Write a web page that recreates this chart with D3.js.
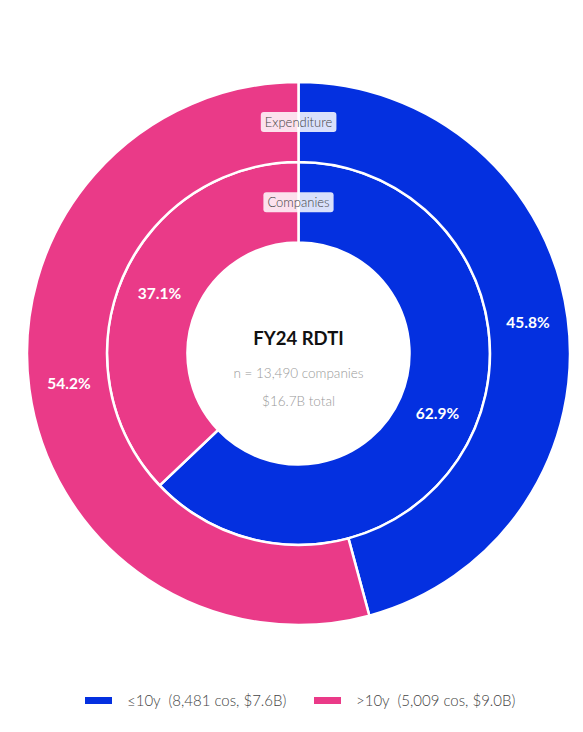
<!DOCTYPE html>
<html>
<head>
<meta charset="utf-8">
<script src="https://cdn.jsdelivr.net/npm/d3@7"></script>
<style>
  body { margin: 0; background: #fff; font-family: Lato, "Noto Sans", sans-serif; }
</style>
</head>
<body>
<svg id="chart" width="583" height="732"></svg>
<script>
const groupNames = ["≤10y", ">10y"];
const colors = ["#0430E0", "#EA3A88"];
const companyShare = [62.9, 37.1];
const expenditureShare = [45.8, 54.2];
const legendLabels = ["≤10y  (8,481 cos, $7.6B)", ">10y  (5,009 cos, $9.0B)"];
const centerTitle = "FY24 RDTI";
const centerLines = ["n = 13,490 companies", "$16.7B total"];

const width = 583;
const height = 732;
const cx = 298.5, cy = 353.5;
const r0 = 111, r1 = 191.5, r2 = 271.5;

const svg = d3.select("#chart");
const g = svg.append("g").attr("transform", `translate(${cx},${cy})`);

const pie = d3.pie().sort(null).value(d => d);

const rings = [
    { name: "Companies", values: companyShare, inner: r0, outer: r1 },
    { name: "Expenditure", values: expenditureShare, inner: r1, outer: r2 }
];

rings.forEach(ring => {
    const arc = d3.arc().innerRadius(ring.inner).outerRadius(ring.outer);
    const labelArc = d3.arc()
        .innerRadius((ring.inner + ring.outer) / 2)
        .outerRadius((ring.inner + ring.outer) / 2);
    const arcs = pie(ring.values);

    g.append("g")
        .selectAll("path")
        .data(arcs)
        .join("path")
        .attr("d", arc)
        .attr("fill", (d, i) => colors[i])
        .attr("stroke", "#fff")
        .attr("stroke-width", 2.5);

    g.append("g")
        .selectAll("text")
        .data(arcs)
        .join("text")
        .attr("transform", d => `translate(${labelArc.centroid(d)})`)
        .attr("text-anchor", "middle")
        .attr("dy", "0.35em")
        .attr("fill", "#fff")
        .attr("font-size", 15.5)
        .attr("font-weight", "bold")
        .text(d => d.data.toFixed(1) + "%");
});

// ring name tags at the top
rings.forEach(ring => {
    const y = -(ring.inner + ring.outer) / 2;
    const tag = g.append("g").attr("transform", `translate(0,${y})`);
    const t = tag.append("text")
        .attr("text-anchor", "middle")
        .attr("dy", "0.35em")
        .attr("font-size", 13)
        .attr("font-weight", 300)
        .attr("fill", "#444")
        .text(ring.name);
    const bb = t.node().getBBox();
    tag.insert("rect", "text")
        .attr("x", bb.x - 4)
        .attr("y", -10)
        .attr("width", bb.width + 8)
        .attr("height", 20)
        .attr("rx", 3)
        .attr("fill", "#fff")
        .attr("fill-opacity", 0.85);
});

// centre text
g.append("text")
    .attr("text-anchor", "middle")
    .attr("y", -15)
    .attr("dy", "0.35em")
    .attr("font-size", 18.5)
    .attr("font-weight", "bold")
    .attr("fill", "#111")
    .text(centerTitle);

g.selectAll(".sub")
    .data(centerLines)
    .join("text")
    .attr("class", "sub")
    .attr("text-anchor", "middle")
    .attr("y", (d, i) => 20 + i * 28)
    .attr("dy", "0.35em")
    .attr("font-size", 13.5)
    .attr("font-weight", 300)
    .attr("fill", "#999")
    .text(d => d);

// legend
const legendX = [85, 314];
const legend = svg.append("g");
legendLabels.forEach((label, i) => {
    legend.append("rect")
        .attr("x", legendX[i])
        .attr("y", 697)
        .attr("width", 27)
        .attr("height", 7)
        .attr("fill", colors[i]);
    legend.append("text")
        .attr("x", legendX[i] + 42)
        .attr("y", 700.5)
        .attr("dy", "0.35em")
        .attr("font-size", 15)
        .attr("font-weight", 300)
        .attr("fill", "#444")
        .style("white-space", "pre")
        .text(label);
});
</script>
</body>
</html>
